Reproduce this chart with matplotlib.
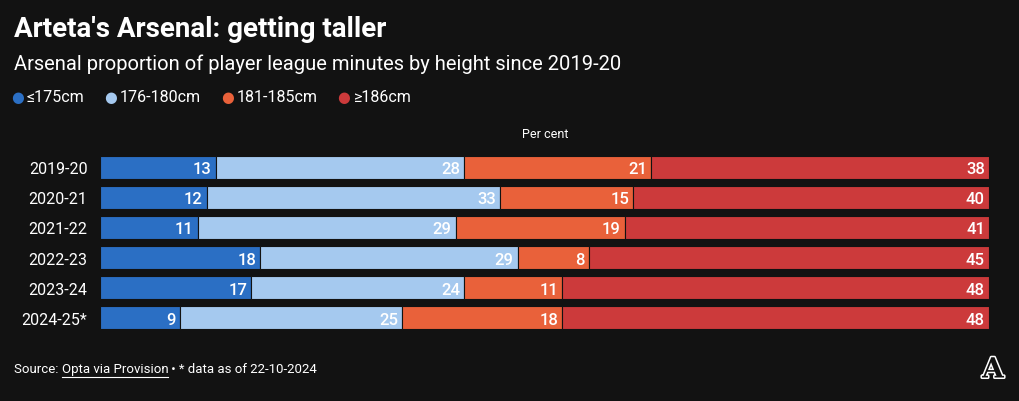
import numpy as np
import matplotlib.pyplot as plt
import matplotlib.patheffects as pe

seasons = ['2019-20', '2020-21', '2021-22', '2022-23', '2023-24', '2024-25*']
groups = ['≤175cm', '176-180cm', '181-185cm', '≥186cm']
colors = ['#2b6fc4', '#a5c9ef', '#e9613a', '#cc3a3b']
le175 = [13, 12, 11, 18, 17, 9]
h176_180 = [28, 33, 29, 29, 24, 25]
h181_185 = [21, 15, 19, 8, 11, 18]
ge186 = [38, 40, 41, 45, 48, 48]

bg = '#121212'
W, H = 1020, 402
fig = plt.figure(figsize=(W / 100, H / 100), dpi=100, facecolor=bg)
plt.rcParams['font.family'] = ['Roboto', 'DejaVu Sans']

# axes placed in pixel coords
left, right, top, bottom = 100, 989, 153, 334
ax = fig.add_axes([left / W, 1 - bottom / H, (right - left) / W, (bottom - top) / H])
ax.set_facecolor(bg)

y = np.arange(len(seasons))
base = np.zeros(len(seasons))
for vals, c in zip([le175, h176_180, h181_185, ge186], colors):
    vals = np.array(vals)
    ax.barh(y, vals, left=base, height=0.76, color=c, edgecolor=bg, linewidth=0.8)
    for yi, b, v in zip(y, base, vals):
        ax.text(b + v - 0.45, yi, str(v), ha='right', va='center_baseline',
                color='white', fontsize=12, fontweight='medium')
    base += vals

ax.set_xlim(0, 100)
ax.set_ylim(len(seasons) - 0.5, -0.5)
ax.set_yticks(y)
ax.set_yticklabels(seasons, color='white', fontsize=11.5)
ax.tick_params(axis='y', length=0, pad=9)
ax.set_xticks([])
for s in ax.spines.values():
    s.set_visible(False)

# titles
fig.text(14 / W, 1 - 37 / H, "Arteta's Arsenal: getting taller", color='white',
         fontsize=20, fontweight='bold', ha='left', va='baseline')
fig.text(14 / W, 1 - 70 / H, "Arsenal proportion of player league minutes by height since 2019-20",
         color='white', fontsize=14.5, ha='left', va='baseline')

# legend
lx = [18, 111, 228, 344]
for x0, g, c in zip(lx, groups, colors):
    fig.text(x0 / W, 1 - 98 / H, '●', color=c, fontsize=10.5, ha='center', va='center',
             family='DejaVu Sans')
    fig.text((x0 + 9) / W, 1 - 98 / H, g, color='white', fontsize=11.5, ha='left', va='center')

fig.text(545 / W, 1 - 135 / H, 'Per cent', color='white', fontsize=9, ha='center', va='center')

# footer
fs = 9.5
t1 = fig.text(14 / W, 1 - 370 / H, 'Source: ', color='white', fontsize=fs, ha='left', va='center')
fig.canvas.draw()
r = fig.canvas.get_renderer()
bb = t1.get_window_extent(r)
t2 = fig.text(bb.x1 / W, 1 - 370 / H, 'Opta via Provision', color='white', fontsize=fs,
              ha='left', va='center')
bb2 = t2.get_window_extent(r)
fig.add_artist(plt.Line2D([bb2.x0 / W, bb2.x1 / W], [(bb2.y0 - 1) / H] * 2,
                          color='white', linewidth=0.8))
fig.text(bb2.x1 / W, 1 - 370 / H, ' • * data as of 22-10-2024', color='white', fontsize=fs,
         ha='left', va='center')

fig.text(993 / W, 1 - 371 / H, 'A', color=bg, fontsize=20, ha='center', va='center',
         family='DejaVu Serif', fontweight='bold',
         path_effects=[pe.withStroke(linewidth=2.2, foreground='white')])

fig.savefig('out.png', dpi=100, facecolor=bg)
